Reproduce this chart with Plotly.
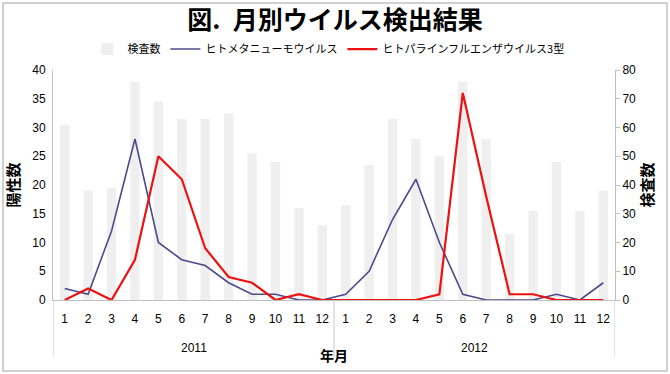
import plotly.graph_objects as go

years = ["2011"] * 12 + ["2012"] * 12
months = [str(m) for m in range(1, 13)] * 2
tests = [61, 38, 39, 76, 69, 63, 63, 65, 51, 48, 32, 26,
         33, 47, 63, 56, 50, 76, 56, 23, 31, 48, 31, 38]
hmpv = [2, 1, 12, 28, 10, 7, 6, 3, 1, 1, 0, 0,
        1, 5, 14, 21, 10, 1, 0, 0, 0, 1, 0, 3]
hpiv3 = [0, 2, 0, 7, 25, 21, 9, 4, 3, 0, 1, 0,
         0, 0, 0, 0, 1, 36, 18, 1, 1, 0, 0, 0]

FONT = "Liberation Sans, Arial, Noto Sans CJK JP"
JP = "Noto Sans CJK JP"
idx = list(range(len(months)))
PLOT_H = 230

fig = go.Figure()
fig.add_trace(go.Bar(x=idx, y=tests, name="検査数", yaxis="y",
                     marker=dict(color="#efefef", line=dict(width=0)), width=0.4))
fig.add_trace(go.Scatter(x=idx, y=hmpv, name="ヒトメタニューモウイルス", mode="lines", yaxis="y2",
                         line=dict(color="#4b4b8c", width=1.6)))
fig.add_trace(go.Scatter(x=idx, y=hpiv3, name="ヒトパラインフルエンザウイルス3型", mode="lines", yaxis="y2",
                         line=dict(color="#ee1111", width=2.2)))

fig.update_layout(
    width=670, height=374,
    margin=dict(l=53, r=55, t=70, b=74, autoexpand=False),
    paper_bgcolor="white", plot_bgcolor="white",
    font=dict(family=FONT, size=12, color="#000000"),
    title=dict(text="<b>図.\u2002月別ウイルス検出結果</b>", x=0.5, xanchor="center", y=0.947, yanchor="middle",
               font=dict(family=JP, size=25, color="#000")),
    legend=dict(orientation="h", x=0.49, xanchor="center", y=1.091, yanchor="middle",
                font=dict(family=JP, size=11), traceorder="normal",
                bgcolor="rgba(0,0,0,0)"),
    showlegend=True,
    xaxis=dict(range=[-0.5, len(idx) - 0.5], tickmode="array", tickvals=idx, ticktext=months,
               showline=True, linecolor="#c0c0c0", linewidth=1, showgrid=False, zeroline=False,
               ticks="outside", ticklen=8, tickcolor="rgba(0,0,0,0)", automargin=False,
               tickfont=dict(size=12, family=FONT)),
    yaxis=dict(range=[0, 80], dtick=10, side="right", showline=True,
               linecolor="#c0c0c0", showgrid=False, zeroline=False, ticks="outside", ticklen=4,
               tickcolor="#c0c0c0", tickfont=dict(size=12, family=FONT), automargin=False,
               title=dict(text="<b>検査数</b>", font=dict(family=JP, size=15), standoff=6)),
    yaxis2=dict(range=[0, 40], dtick=5, overlaying="y", side="left", showline=True,
                linecolor="#c0c0c0", showgrid=False, zeroline=False, ticks="outside", ticklen=4,
                tickcolor="rgba(0,0,0,0)", tickfont=dict(size=12, family=FONT), automargin=False,
                title=dict(text="<b>陽性数</b>", font=dict(family=JP, size=15), standoff=8)),
)

# year group labels and dividers
groups = []
for i, yv in enumerate(years):
    if not groups or groups[-1][0] != yv:
        groups.append([yv, i, i])
    else:
        groups[-1][2] = i
for yv, a, b in groups:
    fig.add_annotation(text=yv, xref="x", yref="paper", x=(a + b) / 2, y=-48 / PLOT_H,
                       xanchor="center", yanchor="middle", showarrow=False,
                       font=dict(family=FONT, size=12))
bounds = [g[1] - 0.5 for g in groups] + [groups[-1][2] + 0.5]
for bx in bounds:
    fig.add_shape(type="line", xref="x", yref="paper", x0=bx, x1=bx, y0=0, y1=-57 / PLOT_H,
                  line=dict(color="#c8c8c8", width=1))

fig.add_annotation(text="<b>年月</b>", xref="paper", yref="paper", x=0.5, y=-55 / PLOT_H,
                   xanchor="center", yanchor="middle", showarrow=False,
                   font=dict(family=JP, size=14))
fig.add_shape(type="rect", xref="paper", yref="paper",
              x0=(3 - 53) / 562, x1=(667 - 53) / 562, y0=(300 - 371) / PLOT_H, y1=(300 - 3) / PLOT_H,
              line=dict(color="#d0d0d0", width=2), fillcolor="rgba(0,0,0,0)", layer="below")

fig.write_html("out.html", config={"displayModeBar": False},
               post_script="document.body.style.margin='0';document.body.style.overflow='hidden';")
